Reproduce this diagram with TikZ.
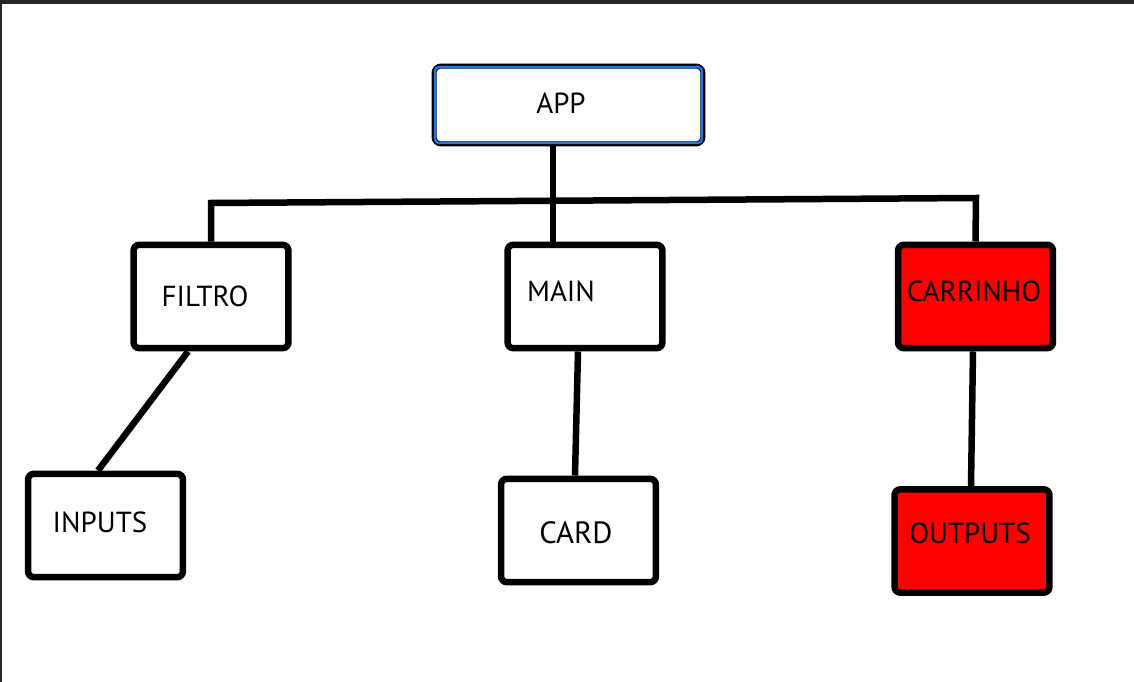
\documentclass[tikz,border=0pt]{standalone}
\usepackage{fontspec}
\setmainfont{PT Sans}
\definecolor{boxred}{RGB}{255,0,0}
\definecolor{appblue}{RGB}{30,120,230}
\definecolor{frame}{RGB}{38,38,38}

\begin{document}
\begin{tikzpicture}[x=0.02cm, y=-0.02cm,
  comp/.style={draw, line width=0.13cm, rounded corners=0.12cm, minimum width=3.1cm, minimum height=2.07cm, inner sep=0pt},
  txt/.style={font=\fontsize{16.5}{18}\selectfont},
  wire/.style={line width=0.13cm}]
\useasboundingbox (0, 0) rectangle (1134, 682);
\fill[white] (0, 0) rectangle (1134, 682);
\fill[frame] (0, 0) rectangle (1134, 4);
\fill[frame] (0, 0) rectangle (2, 682);

\node[draw, line width=0.1cm, rounded corners=0.14cm, minimum width=5.38cm, minimum height=1.56cm] (app) at (568.5, 105) {};
\draw[appblue, line width=0.045cm, rounded corners=0.08cm] ([shift={(3.5, 3.5)}]app.north west) rectangle ([shift={(-3.5, -3.5)}]app.south east);
\node[txt] at (561, 103) {APP};

\node[comp, label={[txt, shift={(-6, 0)}]center:FILTRO}] (filtro) at (211, 296.5) {};
\node[comp, label={[txt, shift={(-24, -5.5)}]center:MAIN}] (main) at (585, 296.5) {};
\node[comp, fill=boxred, label={[txt, shift={(-1.5, -5.5)}]center:CARRINHO}] (carrinho) at (975.5, 296.5) {};

\node[comp, label={[txt, shift={(-5.5, -3.5)}]center:INPUTS}] (inputs) at (105.5, 525.5) {};
\node[comp, label={[txt, font=\fontsize{17.5}{19}\selectfont, shift={(-2.5, 2.5)}]center:CARD}] (card) at (578.5, 530.5) {};
\node[comp, fill=boxred, label={[txt, shift={(-2, -8)}]center:OUTPUTS}] (outputs) at (972, 541) {};

% bus
\coordinate (busL) at (211, 203);
\coordinate (busR) at (976, 198);
\coordinate (busC) at (553, 200);
\draw[wire] (filtro.north) -- (busL) -- (busR) -- (carrinho.north);
\draw[wire] (app.south -| busC) -- (main.north -| busC);

\draw[wire] ([shift={(-23, 0)}]filtro.south) -- ([shift={(-7.5, 0)}]inputs.north);
\draw[wire] ([shift={(-7, 0)}]main.south) -- ([shift={(-3.5, 0)}]card.north);
\draw[wire] ([shift={(-2.5, 0)}]carrinho.south) -- ([shift={(-1, 0)}]outputs.north);
\end{tikzpicture}
\end{document}
